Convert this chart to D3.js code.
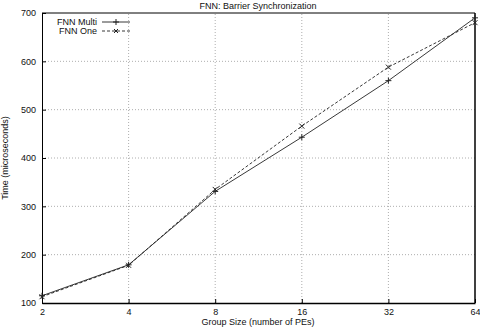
<!DOCTYPE html>
<html>
<head>
<meta charset="utf-8">
<script src="https://cdn.jsdelivr.net/npm/d3@7"></script>
<style>
body { margin: 0; background: #fff; }
svg { display: block; font-family: "Liberation Sans", Arial, sans-serif; }
.grid line { stroke: #999; stroke-width: 0.8; stroke-dasharray: 1,2; }
</style>
</head>
<body>
<svg id="chart" width="480" height="327"></svg>
<script>
// group sizes (number of PEs)
const groupSizes = [2, 4, 8, 16, 32, 64]
// time in microseconds
const fnnMulti = [115, 179, 331, 443, 560, 690]
const fnnOne = [113, 178, 335, 466, 588, 680]
const yTicks = [100, 200, 300, 400, 500, 600, 700]

const width = 480, height = 327
const margin = {top: 13, right: 5, bottom: 24, left: 42}

const svg = d3.select('#chart')

const x = d3.scaleLog().base(2)
	.domain([2, 64])
	.range([margin.left, width - margin.right])

const y = d3.scaleLinear()
	.domain([100, 700])
	.range([height - margin.bottom, margin.top])

// grid
const grid = svg.append('g').attr('class', 'grid')
grid.selectAll('.gx')
	.data(groupSizes.slice(1, -1))
	.join('line')
	.attr('x1', d => x(d)).attr('x2', d => x(d))
	.attr('y1', y(100)).attr('y2', y(700))
grid.selectAll('.gy')
	.data(yTicks.slice(1, -1))
	.join('line')
	.attr('x1', x(2)).attr('x2', x(64))
	.attr('y1', d => y(d)).attr('y2', d => y(d))

// axes (ticks inward, gnuplot style)
const xAxis = svg.append('g')
	.attr('transform', `translate(0,${y(100)})`)
	.call(d3.axisBottom(x).tickValues(groupSizes).tickFormat(d3.format('d')).tickSizeInner(-4).tickSizeOuter(0).tickPadding(6))
xAxis.select('.domain').attr('stroke-width', 1.5)

const yAxis = svg.append('g')
	.attr('transform', `translate(${x(2)},0)`)
	.call(d3.axisLeft(y).tickValues(yTicks).tickSizeInner(-4).tickSizeOuter(0).tickPadding(6))

svg.selectAll('.tick text').attr('font-size', 9).attr('fill', '#111')
	.attr('font-family', '"Liberation Sans", Arial, sans-serif')
svg.selectAll('.domain').attr('stroke', '#000')

// top and right border
svg.append('line')
	.attr('x1', x(2)).attr('x2', x(64))
	.attr('y1', y(700)).attr('y2', y(700))
	.attr('stroke', '#000')
svg.append('line')
	.attr('x1', x(64)).attr('x2', x(64))
	.attr('y1', y(700)).attr('y2', y(100))
	.attr('stroke', '#000').attr('stroke-width', 1.5)

// lines
const line = d3.line()
	.x((d, i) => x(groupSizes[i]))
	.y(d => y(d))

svg.append('path')
	.datum(fnnMulti)
	.attr('d', line)
	.attr('fill', 'none')
	.attr('stroke', '#222')
	.attr('stroke-width', 0.9)

svg.append('path')
	.datum(fnnOne)
	.attr('d', line)
	.attr('fill', 'none')
	.attr('stroke', '#222')
	.attr('stroke-width', 0.9)
	.attr('stroke-dasharray', '3,2')

// markers
const plus = svg.append('g')
fnnMulti.forEach((v, i) => {
	const cx = x(groupSizes[i]), cy = y(v)
	plus.append('path')
		.attr('d', `M${cx - 3},${cy}H${cx + 3}M${cx},${cy - 3}V${cy + 3}`)
		.attr('stroke', '#222')
})
const cross = svg.append('g')
fnnOne.forEach((v, i) => {
	const cx = x(groupSizes[i]), cy = y(v)
	cross.append('path')
		.attr('d', `M${cx - 2.5},${cy - 2.5}L${cx + 2.5},${cy + 2.5}M${cx - 2.5},${cy + 2.5}L${cx + 2.5},${cy - 2.5}`)
		.attr('stroke', '#222')
})

// legend
const legend = [
	{name: 'FNN Multi', dash: null, marker: 'plus'},
	{name: 'FNN One', dash: '3,2', marker: 'cross'}
]
legend.forEach((d, i) => {
	const ly = 22 + i * 9
	svg.append('text')
		.attr('x', 97).attr('y', ly + 3)
		.attr('text-anchor', 'end')
		.attr('font-size', 9)
		.attr('fill', '#111')
		.text(d.name)
	svg.append('line')
		.attr('x1', 102).attr('x2', 130)
		.attr('y1', ly).attr('y2', ly)
		.attr('stroke', '#222')
		.attr('stroke-width', 0.9)
		.attr('stroke-dasharray', d.dash)
	const cx = 116
	svg.append('path')
		.attr('d', d.marker === 'plus'
			? `M${cx - 3},${ly}H${cx + 3}M${cx},${ly - 3}V${ly + 3}`
			: `M${cx - 2},${ly - 2}L${cx + 2},${ly + 2}M${cx - 2},${ly + 2}L${cx + 2},${ly - 2}`)
		.attr('stroke', '#222')
})

// title and axis labels
svg.append('text')
	.attr('x', 258).attr('y', 9)
	.attr('text-anchor', 'middle')
	.attr('font-size', 9)
	.attr('fill', '#111')
	.text('FNN: Barrier Synchronization')

svg.append('text')
	.attr('x', 258).attr('y', 325)
	.attr('text-anchor', 'middle')
	.attr('font-size', 9)
	.attr('fill', '#111')
	.text('Group Size (number of PEs)')

svg.append('text')
	.attr('transform', `translate(8,${(y(100) + y(700)) / 2}) rotate(-90)`)
	.attr('text-anchor', 'middle')
	.attr('font-size', 9)
	.attr('fill', '#111')
	.text('Time (microseconds)')
</script>
</body>
</html>
